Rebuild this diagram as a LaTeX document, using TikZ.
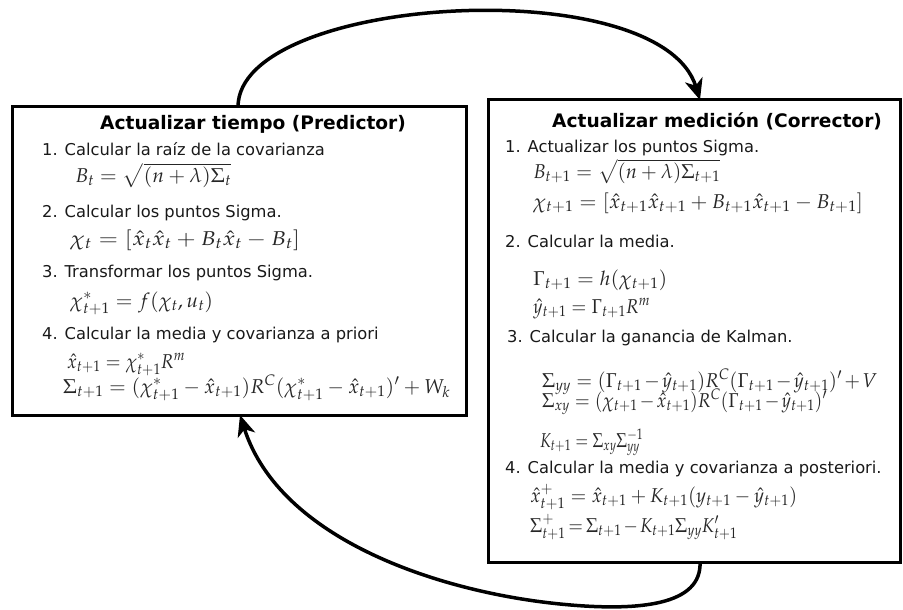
\documentclass[tikz,border=0pt]{standalone}
\usepackage{graphicx}
\usepackage{mathpazo}
\usepackage[no-math]{fontspec}
\setmainfont{DejaVu Sans}
\usetikzlibrary{arrows.meta}
\newcommand{\eqfit}[2]{\resizebox{#1pt}{\height}{$#2$}}
\begin{document}
\begin{tikzpicture}[x=1pt,y=-1pt,
  box/.style={draw, line width=3pt, inner sep=0pt, outer sep=0pt},
  txt/.style={anchor=base west, inner sep=0pt, font=\fontsize{16.3}{19}\selectfont, text=black!90},
  ttl/.style={anchor=base west, inner sep=0pt, font=\fontsize{18.6}{22}\selectfont\bfseries},
  eq/.style={anchor=base west, inner sep=0pt, font=\fontsize{20}{22}\selectfont, text=black!85},
  conn/.style={line width=3.5pt, -{Stealth[length=21pt,width=18pt,inset=6pt]}}]
\useasboundingbox (0,0) rectangle (903,610);
% boxes
\node[box, minimum width=454pt, minimum height=308pt] (L) at (239,261) {};
\node[box, minimum width=412pt, minimum height=462pt] (R) at (694,331) {};
% left box text
\node[ttl] (lt) at (100,129) {Actualizar tiempo (Predictor)};
\node[txt] (l1) at (42,155) {1. Calcular la raíz de la covarianza};
\node[eq] (l1e) at (75,182) {\eqfit{156}{B_t =\sqrt{(n+\lambda)\Sigma_t}}};
\node[txt] (l2) at (42,217) {2. Calcular los puntos Sigma.};
\node[eq] (l2e) at (70,245) {\eqfit{230}{\chi_t = [\hat{x}_t\hat{x}_t + B_t\hat{x}_t - B_t]}};
\node[txt] (l3) at (42,277) {3. Transformar los puntos Sigma.};
\node[eq] (l3e) at (70,307) {\eqfit{143}{\chi^*_{t+1} = f(\chi_t, u_t)}};
\node[txt] (l4) at (42,339) {4. Calcular la media y covarianza a priori};
\node[eq] (l4e1) at (67,368) {\eqfit{118}{\hat{x}_{t+1} = \chi^*_{t+1}R^m}};
\node[eq] (l4e2) at (63,393) {\eqfit{387}{\Sigma_{t+1} = (\chi^*_{t+1}-\hat{x}_{t+1})R^C(\chi^*_{t+1}-\hat{x}_{t+1})' + W_k}};
% right box text
\node[ttl] (rt) at (552,128) {Actualizar medición (Corrector)};
\node[txt] (r1) at (505,152) {1. Actualizar los puntos Sigma.};
\node[eq] (r1e1) at (533,178) {\eqfit{187}{B_{t+1} =\sqrt{(n+\lambda)\Sigma_{t+1}}}};
\node[eq] (r1e2) at (533,208) {\eqfit{330}{\chi_{t+1} = [\hat{x}_{t+1}\hat{x}_{t+1} + B_{t+1}\hat{x}_{t+1} - B_{t+1}]}};
\node[txt] (r2) at (505,247) {2. Calcular la media.};
\node[eq] (r2e1) at (533,285) {\eqfit{134}{\Gamma_{t+1} = h(\chi_{t+1})}};
\node[eq] (r2e2) at (533,313) {\eqfit{117}{\hat{y}_{t+1} = \Gamma_{t+1}R^m}};
\node[txt] (r3) at (507,342) {3. Calcular la ganancia de Kalman.};
\node[eq] (r3e1) at (542,387) {\eqfit{335}{\medmuskip=2mu \Sigma_{yy} = (\Gamma_{t+1}-\hat{y}_{t+1})R^C(\Gamma_{t+1}-\hat{y}_{t+1})' \mathbin{+} V}};
\node[eq] (r3e2) at (542,407) {\eqfit{285}{\medmuskip=2mu \Sigma_{xy} = (\chi_{t+1}-\hat{x}_{t+1})R^C(\Gamma_{t+1}-\hat{y}_{t+1})'}};
\node[eq] (r3e3) at (540,447) {\eqfit{103}{K_{t+1} = \Sigma_{xy}\Sigma_{yy}^{-1}}};
\node[txt] (r4) at (505,473) {4. Calcular la media y covarianza a posteriori.};
\node[eq] (r4e1) at (530,502) {\eqfit{267}{\hat{x}^+_{t+1} = \hat{x}_{t+1} + K_{t+1}(y_{t+1}-\hat{y}_{t+1})}};
\node[eq] (r4e2) at (530,532) {\eqfit{207}{\medmuskip=2mu \thickmuskip=3mu \Sigma^+_{t+1} = \Sigma_{t+1} - K_{t+1}\Sigma_{yy}K'_{t+1}}};
% connectors
\coordinate (ls) at ([xshift=226pt]L.north west);
\coordinate (re) at ([xshift=212pt]R.north west);
\coordinate (rs) at ([xshift=212pt]R.south west);
\coordinate (le) at ([xshift=228pt]L.south west);
\coordinate (bm) at (560,604);
\draw[conn] (ls) .. controls +(0,-112) and +(-40,-130) .. (re);
\draw[conn] (rs) .. controls +(2,43) and (640,612) .. (bm) .. controls (440,592) and (280,540) .. (le);
\end{tikzpicture}
\end{document}
